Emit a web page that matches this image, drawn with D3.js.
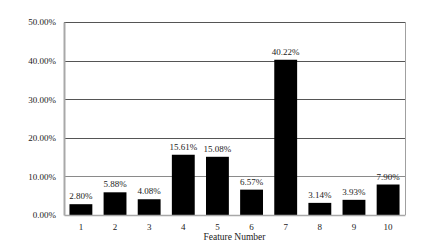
<!DOCTYPE html>
<html lang="en">
<head>
<meta charset="UTF-8">
<script src="https://d3js.org/d3.v7.min.js"></script>
<style>
    body { margin: 0; background: #fff; }
    text { font-family: "Liberation Serif", "Times New Roman", serif; }
</style>
</head>
<body>
<script>
    var features = ["1", "2", "3", "4", "5", "6", "7", "8", "9", "10"];
    var shares = [2.80, 5.88, 4.08, 15.61, 15.08, 6.57, 40.22, 3.14, 3.93, 7.90];
    var yTicks = [0, 10, 20, 30, 40, 50];

    var width = 439, height = 246;
    var margin = { top: 22, right: 34, bottom: 31, left: 64 };
    var innerW = width - margin.left - margin.right;
    var innerH = height - margin.top - margin.bottom;

    var svg = d3.select("body").append("svg")
        .attr("width", width)
        .attr("height", height);

    var g = svg.append("g")
        .attr("transform", "translate(" + margin.left + "," + margin.top + ")");

    var x = d3.scaleBand()
        .domain(features)
        .range([0, innerW])
        .paddingInner(0.33)
        .paddingOuter(0.16);

    var y = d3.scaleLinear()
        .domain([0, 50])
        .range([innerH, 0]);

    // gridlines
    g.selectAll(".grid")
        .data(yTicks.filter(function (d) { return d > 0; }))
        .enter().append("line")
        .attr("x1", 0)
        .attr("x2", innerW)
        .attr("y1", function (d) { return Math.round(y(d)) + 0.5; })
        .attr("y2", function (d) { return Math.round(y(d)) + 0.5; })
        .attr("stroke", function (d) { return d == 10 ? "#8a8a8a" : "#555"; })
        .attr("stroke-width", 1);

    // right border
    g.append("line")
        .attr("x1", innerW + 0.5).attr("x2", innerW + 0.5)
        .attr("y1", 0).attr("y2", innerH)
        .attr("stroke", "#a0a0a0");

    // bars
    g.selectAll(".bar")
        .data(shares)
        .enter().append("rect")
        .attr("x", function (d, i) { return x(features[i]); })
        .attr("y", function (d) { return y(d); })
        .attr("width", x.bandwidth())
        .attr("height", function (d) { return innerH - y(d); })
        .attr("fill", "#000");

    // value labels
    g.selectAll(".lbl")
        .data(shares)
        .enter().append("text")
        .attr("x", function (d, i) { return x(features[i]) + x.bandwidth() / 2; })
        .attr("y", function (d) { return y(d) - 5; })
        .attr("text-anchor", "middle")
        .attr("font-size", "9px")
        .attr("fill", "#222")
        .text(function (d) { return d.toFixed(2) + "%"; });

    // y axis
    var yAxis = g.append("g")
        .call(d3.axisLeft(y).tickValues(yTicks).tickSize(0).tickPadding(8)
            .tickFormat(function (d) { return d.toFixed(2) + "%"; }));
    yAxis.select(".domain").attr("stroke", "#a8a8a8").attr("stroke-width", 2);
    yAxis.selectAll("text").attr("font-size", "9px").attr("fill", "#222")
        .style("font-family", "Liberation Serif, serif");

    // x axis
    var xAxis = g.append("g")
        .attr("transform", "translate(0," + innerH + ")")
        .call(d3.axisBottom(x).tickSize(0).tickPadding(9));
    xAxis.select(".domain").attr("stroke", "#a8a8a8").attr("stroke-width", 1.5);
    xAxis.selectAll("text").attr("font-size", "9px").attr("fill", "#222")
        .style("font-family", "Liberation Serif, serif");

    // x title
    g.append("text")
        .attr("x", innerW / 2)
        .attr("y", innerH + 25)
        .attr("text-anchor", "middle")
        .attr("font-size", "9.5px")
        .attr("fill", "#222")
        .text("Feature Number");
</script>
</body>
</html>
